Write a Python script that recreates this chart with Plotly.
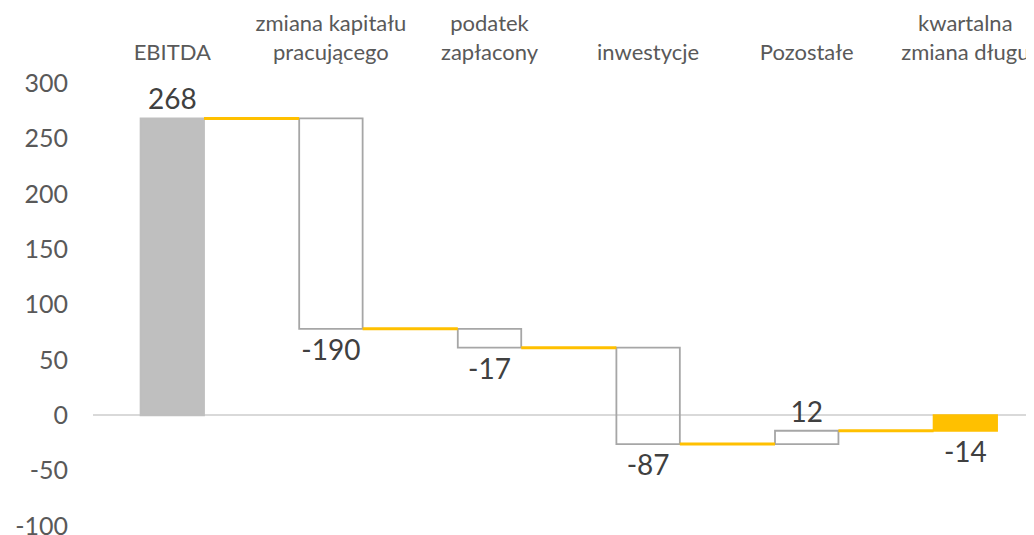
import plotly.graph_objects as go

categories = ["EBITDA", "zmiana kapitału<br>pracującego", "podatek<br>zapłacony",
              "inwestycje", "Pozostałe", "kwartalna<br>zmiana długu"]
values = [268, -190, -17, -87, 12, -14]
measures = ["absolute", "relative", "relative", "relative", "relative", "total"]
labels = ["268", "-190", "-17", "-87", "12", "-14"]
y_ticks = [-100, -50, 0, 50, 100, 150, 200, 250, 300]
y_tick_text = ["-100", "-50", "0", "50", "100", "150", "200", "250", "300"]

GRAY_FILL = "#BFBFBF"
OUTLINE = "#A6A6A6"
YELLOW = "#FFC000"
BAR_W = 0.4

# compute bases / running totals
bases, heights, running = [], [], []
total = 0
for v, m in zip(values, measures):
    if m == "absolute":
        bases.append(0); heights.append(v); total = v
    elif m == "total":
        bases.append(0); heights.append(total)
    else:
        bases.append(total); heights.append(v); total += v
    running.append(total)

fills, lines = [], []
for m in measures:
    if m == "absolute":
        fills.append(GRAY_FILL); lines.append(GRAY_FILL)
    elif m == "total":
        fills.append(YELLOW); lines.append(YELLOW)
    else:
        fills.append("rgba(0,0,0,0)"); lines.append(OUTLINE)

xs = list(range(len(categories)))

fig = go.Figure()
fig.add_trace(go.Bar(
    x=xs, y=heights, base=bases, width=BAR_W,
    marker=dict(color=fills, line=dict(color=lines, width=1.8)),
    text=labels, textposition="outside", constraintext="none",
    textfont=dict(family="Lato", size=28, color="#404040"),
    cliponaxis=False, hoverinfo="skip", showlegend=False,
))

# connectors
for i in range(len(categories) - 1):
    fig.add_trace(go.Scatter(
        x=[i + BAR_W / 2, i + 1 - BAR_W / 2], y=[running[i], running[i]],
        mode="lines", line=dict(color=YELLOW, width=3),
        hoverinfo="skip", showlegend=False,
    ))

fig.update_layout(
    width=1026, height=527,
    margin=dict(l=85, r=0, t=75, b=7, autoexpand=False),
    paper_bgcolor="white", plot_bgcolor="white",
    font=dict(family="Lato", color="#595959"),
    xaxis=dict(
        side="top", tickmode="array", tickvals=xs, ticktext=categories,
        range=[-0.5, 5.433], showgrid=False, zeroline=False, showline=False,
        tickfont=dict(size=22, color="#595959"), ticks="", ticklabelstandoff=18,
        automargin=False,
    ),
    yaxis=dict(
        range=[-101.8, 300], tickmode="array", tickvals=y_ticks, ticktext=y_tick_text,
        showgrid=False, zeroline=True, zerolinecolor="#D9D9D9", zerolinewidth=1.5,
        showline=False, tickfont=dict(size=25, color="#595959"),
        ticks="", ticklabelstandoff=24, layer="above traces", automargin=False,
        ticklabeloverflow="allow",
    ),
)

fig.write_html("out.html")
